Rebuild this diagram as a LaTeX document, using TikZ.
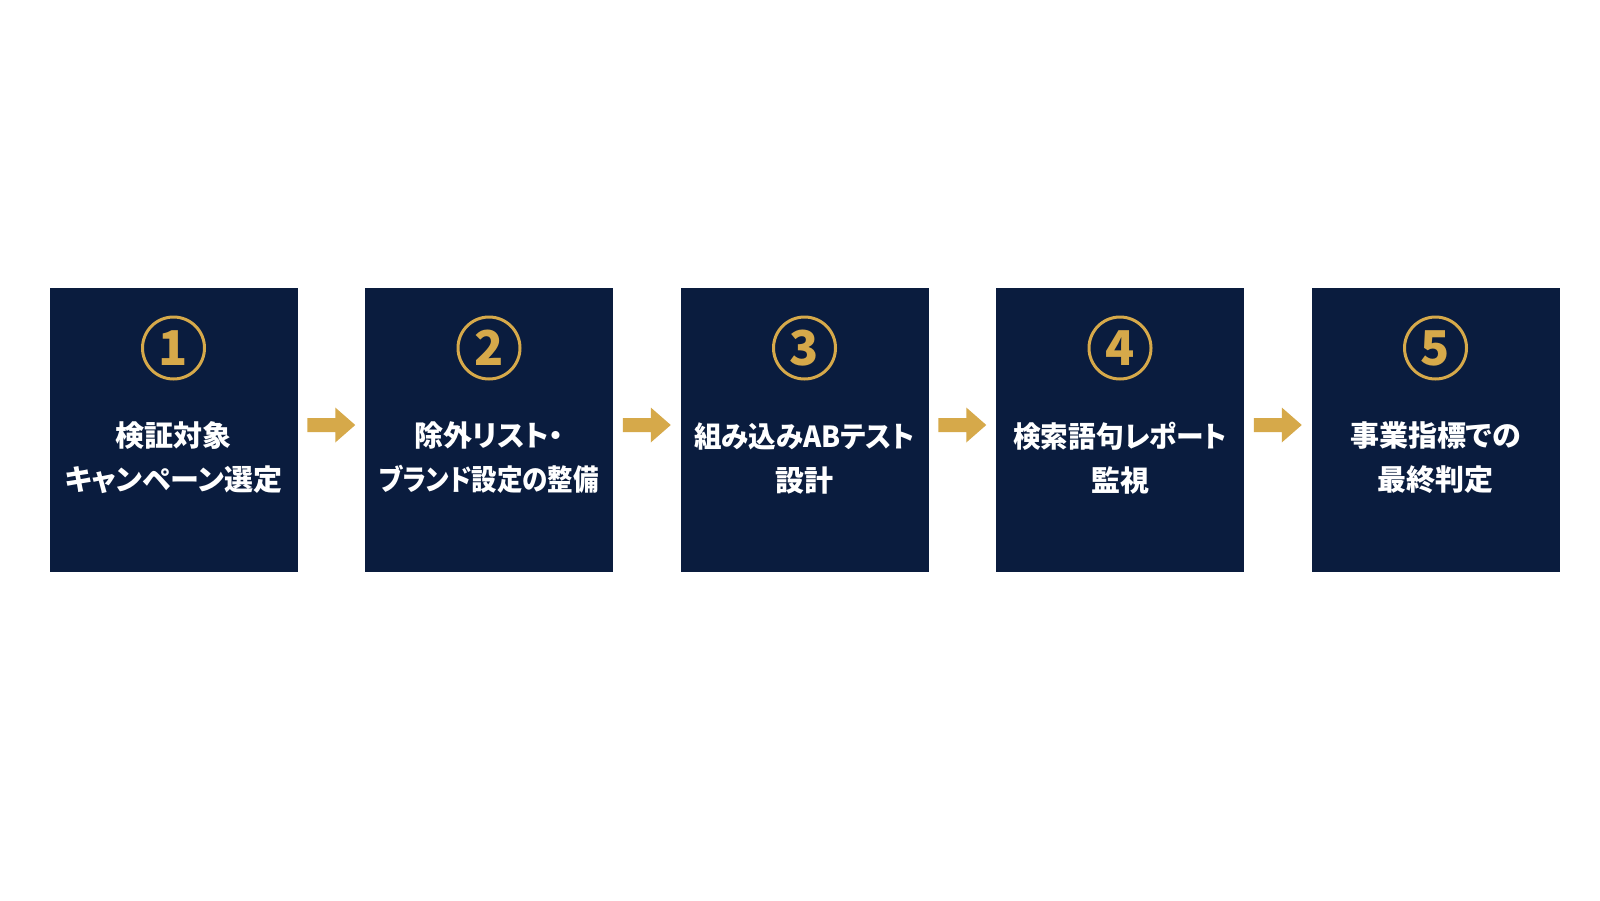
\documentclass[tikz,border=0pt]{standalone}
\usepackage{fontspec}
\usepackage{graphicx}
\newfontfamily\jp[RawFeature=+palt]{Noto Sans CJK JP}
\newfontfamily\jpnum{Noto Sans CJK JP}
\usetikzlibrary{calc}
\definecolor{navy}{HTML}{0A1C3E}
\definecolor{gold}{HTML}{D6A94A}
\tikzset{
  stepbox/.style={fill=navy, draw=none, minimum width=248pt, minimum height=284pt, inner sep=0pt},
  numcirc/.style={circle, draw=gold, line width=3pt, minimum size=62pt, inner sep=0pt, text=gold, font=\jpnum\bfseries\fontsize{48}{48}\selectfont},
  steptext/.style={text=white, align=center, font=\jp\bfseries\fontsize{29}{44}\selectfont},
}
\begin{document}
\begin{tikzpicture}[x=1pt,y=-1pt]
\useasboundingbox (0,0) rectangle (1600,900);
\fill[white] (0,0) rectangle (1600,900);
\foreach \i/\cx/\la/\sa/\lb/\sb in {1/173.5/検証対象/1/キャンペーン選定/1, 2/489/除外リスト・/1/ブランド設定の整備/0.88, 3/804.5/組み込みABテスト/0.95/設計/1, 4/1120/検索語句レポート/0.955/監視/1, 5/1435.5/事業指標での/1/最終判定/1}{
  \node[stepbox] (b\i) at (\cx,430) {};
  \node[numcirc] (n\i) at (\cx,348) {\i};
  \node[steptext] (t\i) at (\cx,458) {\scalebox{\sa}[1]{\la}\\\scalebox{\sb}[1]{\lb}};
}
\foreach \a/\b in {1/2,2/3,3/4,4/5}{
  \coordinate (m\a) at ($(b\a.east)!0.5!(b\b.west)+(0,-5)$);
  \fill[gold] ($(m\a)+(-24,-7)$) -- ($(m\a)+(4,-7)$) -- ($(m\a)+(4,-17.5)$) -- ($(m\a)+(24,0)$) -- ($(m\a)+(4,17.5)$) -- ($(m\a)+(4,7)$) -- ($(m\a)+(-24,7)$) -- cycle;
}
\end{tikzpicture}
\end{document}
